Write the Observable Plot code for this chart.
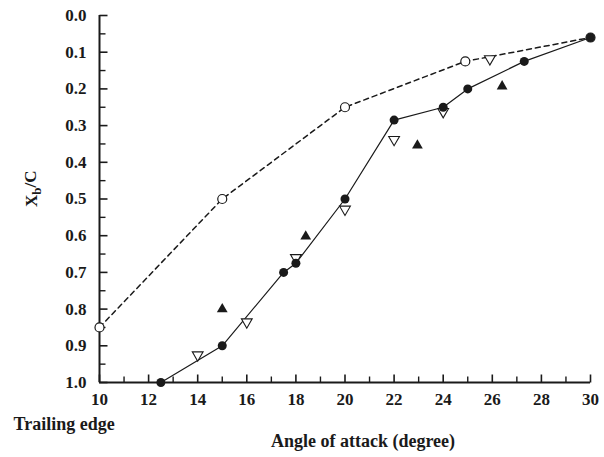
<!DOCTYPE html>
<html>
<head>
<meta charset="utf-8">
<script src="https://cdn.jsdelivr.net/npm/d3@7"></script>
<script src="https://cdn.jsdelivr.net/npm/@observablehq/plot@0.6"></script>
<style>
  html, body { margin: 0; padding: 0; background: #fff; }
  #chart { width: 604px; height: 457px; }
</style>
</head>
<body>
<div id="chart"></div>
<script>
// Filled circles joined by the solid line
const solidAngle = [12.5, 15, 17.5, 18, 20, 22, 24, 25, 27.3, 30];
const solidXb    = [1.0, 0.9, 0.7, 0.675, 0.5, 0.285, 0.25, 0.2, 0.125, 0.06];

// Open circles joined by the dashed line
const dashedAngle = [10, 15, 20, 24.9, 30];
const dashedXb    = [0.85, 0.5, 0.25, 0.125, 0.06];

// Open downward triangles
const openTriAngle = [14, 16, 18, 20, 22, 24, 25.9];
const openTriXb    = [0.925, 0.835, 0.66, 0.528, 0.338, 0.262, 0.118];

// Filled upward triangles
const filledTriAngle = [15, 18.4, 22.95, 26.4];
const filledTriXb    = [0.8, 0.602, 0.354, 0.193];

// Axis ticks
const xTicks = [10, 12, 14, 16, 18, 20, 22, 24, 26, 28, 30];
const xMinor = [11, 13, 15, 17, 19, 21, 23, 25, 27, 29];
const yTicks = [0, 0.1, 0.2, 0.3, 0.4, 0.5, 0.6, 0.7, 0.8, 0.9, 1.0];
const yMinor = [0.05, 0.15, 0.25, 0.35, 0.45, 0.55, 0.65, 0.75, 0.85, 0.95];

const zip = (xs, ys) => xs.map((x, i) => ({angle: x, xb: ys[i]}));
const solid = zip(solidAngle, solidXb);
const dashed = zip(dashedAngle, dashedXb);
const openTri = zip(openTriAngle, openTriXb);
const filledTri = zip(filledTriAngle, filledTriXb);

const ink = "#1a1a1a";

// Frame geometry, used to turn tick lengths in pixels into axis units
const W = 604, H = 457, mL = 99, mR = 14, mT = 15, mB = 75;
const xDomain = [10, 30], yDomain = [0, 1];
const degPerPx = (xDomain[1] - xDomain[0]) / (W - mL - mR);
const xbPerPx = (yDomain[1] - yDomain[0]) / (H - mT - mB);

// Tick marks pointing into the plot, drawn as short links from the axis
const xTickMarks = (ticks, len, w) =>
  Plot.link(ticks, {x1: d => d, x2: d => d, y1: yDomain[1], y2: yDomain[1] - len * xbPerPx, stroke: ink, strokeWidth: w});
const yTickMarks = (ticks, len, w) =>
  Plot.link(ticks, {y1: d => d, y2: d => d, x1: xDomain[0], x2: xDomain[0] + len * degPerPx, stroke: ink, strokeWidth: w});

const chart = Plot.plot({
  width: W,
  height: H,
  marginLeft: mL,
  marginRight: mR,
  marginTop: mT,
  marginBottom: mB,
  style: {fontFamily: "'Liberation Serif', 'DejaVu Serif', serif", fontSize: "17px", color: ink, background: "#fff"},
  x: {domain: xDomain},
  y: {domain: yDomain, reverse: true},
  marks: [
    // tick labels
    Plot.axisX({ticks: xTicks, tickSize: 0, tickPadding: 10, tickFormat: d => String(d), label: null, fontSize: 17, fontWeight: "bold"}),
    Plot.axisY({ticks: yTicks, tickSize: 0, tickPadding: 13, tickFormat: d => d.toFixed(1), label: null, fontSize: 17, fontWeight: "bold"}),
    // tick marks
    xTickMarks(xTicks, 8, 1.6),
    xTickMarks(xMinor, 6, 1.4),
    yTickMarks(yTicks, 8, 1.6),
    yTickMarks(yMinor, 6, 1.4),
    // axis lines
    Plot.ruleX([10], {stroke: ink, strokeWidth: 2}),
    Plot.ruleY([1], {stroke: ink, strokeWidth: 2}),
    // dashed curve with open circles
    Plot.line(dashed, {x: "angle", y: "xb", stroke: ink, strokeWidth: 1.5, strokeDasharray: "5,4"}),
    Plot.dot(dashed, {x: "angle", y: "xb", r: 4.5, stroke: ink, strokeWidth: 1.2, fill: "#fff"}),
    // solid curve
    Plot.line(solid, {x: "angle", y: "xb", stroke: ink, strokeWidth: 1.2}),
    // triangles
    Plot.dot(openTri, {x: "angle", y: "xb", symbol: "triangle", rotate: 180, r: 4, stroke: ink, strokeWidth: 1.1, fill: "#fff"}),
    Plot.dot(filledTri, {x: "angle", y: "xb", symbol: "triangle", r: 4, fill: ink, stroke: "none"}),
    // filled circles
    Plot.dot(solid, {x: "angle", y: "xb", r: 4.5, fill: ink, stroke: "none"}),
    // axis titles
    Plot.text(["Xb/C"], {frameAnchor: "left", dx: -68, dy: 8, rotate: -90, fontSize: 17, fontWeight: "bold", fill: ink, className: "ylabel"}),
    Plot.text(["Trailing edge"], {frameAnchor: "bottom-left", dx: -86, dy: 47, textAnchor: "start", fontSize: 18, fontWeight: "bold", fill: ink}),
    Plot.text(["Angle of attack (degree)"], {frameAnchor: "bottom", dx: 18, dy: 64, fontSize: 18, fontWeight: "bold", fill: ink})
  ]
});

// set the "b" in Xb/C as a subscript
d3.select(chart).selectAll(".ylabel text").each(function () {
  const t = d3.select(this);
  t.text("X");
  t.append("tspan").attr("dy", "0.3em").attr("font-size", "13").text("b");
  t.append("tspan").attr("dy", "-0.3em").text("/C");
});

document.getElementById("chart").appendChild(chart);
</script>
</body>
</html>
